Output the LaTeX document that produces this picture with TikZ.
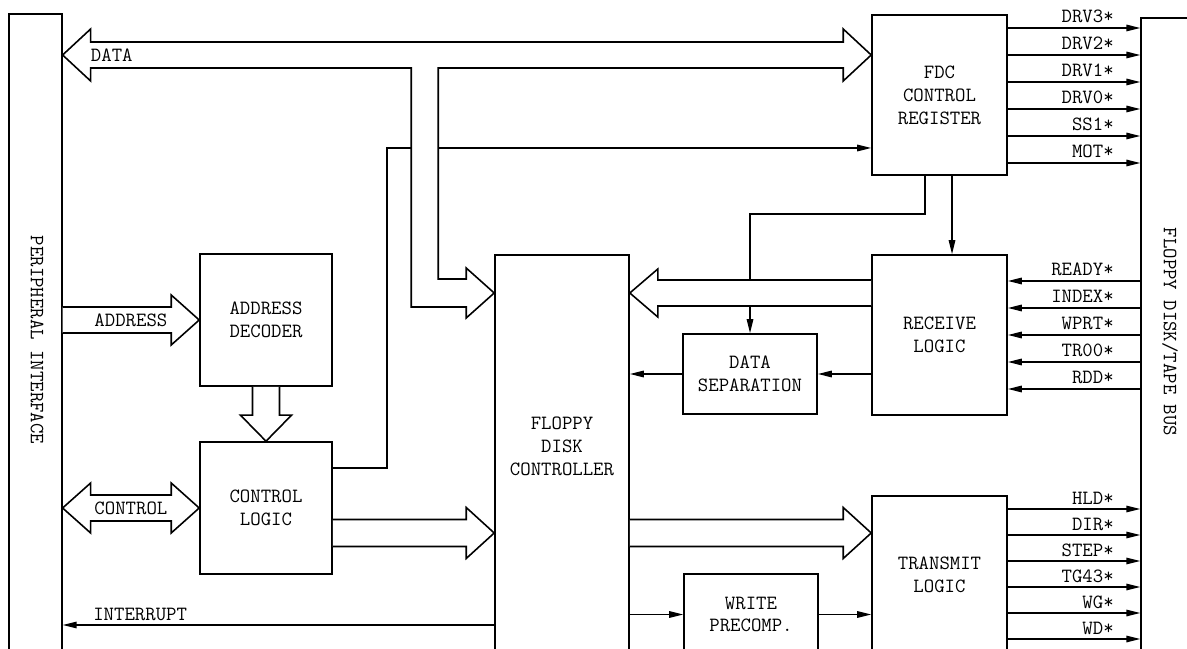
\documentclass[tikz,border=0pt]{standalone}
\usepackage{fontspec}
\usetikzlibrary{arrows.meta,positioning,calc}
\tikzset{
  blk/.style={draw, line width=0.9pt, fill=white, align=center, inner sep=2pt},
  bar/.style={draw, line width=0.7pt, fill=white, inner sep=0pt},
  bus/.style={draw, line width=0.9pt, fill=white, line join=miter},
  arr/.style={-{Triangle[length=2.8mm, width=1.3mm]}, line width=0.8pt},
  lbl/.style={inner sep=0pt},
  sgl/.style={lbl, pos=1, anchor=base east, xshift=-5.2mm, yshift=1mm},
  vlbl/.style={lbl, rotate=-90},
}

\begin{document}
\begin{tikzpicture}[font=\ttfamily\fontsize{11.5}{13}\selectfont]
  \useasboundingbox (0,0) rectangle (23.74,12.96);
  % side buses
  \node[bar, minimum width=1.06cm, minimum height=12.88cm] (per) at (0.71,6.24) {};
  \node[vlbl] (perlbl) at (0.74,6.16) {PERIPHERAL INTERFACE};
  \node[bar, minimum width=1.4cm, minimum height=12.8cm] (fbus) at (23.52,6.2) {};
  \node[vlbl] (fbuslbl) at (23.4,6.32) {FLOPPY DISK/TAPE BUS};
  % blocks
  \node[blk, minimum width=2.7cm, minimum height=3.2cm] (fdcr) at (18.79,11.06) {FDC\\CONTROL\\REGISTER};
  \node[blk, minimum width=2.7cm, minimum height=3.2cm] (rcv) at (18.79,6.26) {RECEIVE\\LOGIC};
  \node[blk, minimum width=2.7cm, minimum height=3.14cm] (xmt) at (18.79,1.47) {TRANSMIT\\LOGIC};
  \node[blk, minimum width=2.68cm, minimum height=8.0cm] (fdc) at (11.24,3.86) {};
  \node[lbl, align=center] (fdctxt) at (11.24,4.04) {FLOPPY\\DISK\\CONTROLLER};
  \node[blk, minimum width=2.68cm, minimum height=1.6cm] (dsep) at (15.0,5.48) {DATA\\SEPARATION};
  \node[blk, minimum width=2.68cm, minimum height=1.62cm] (wpc) at (15.02,0.67) {WRITE\\PRECOMP.};
  \node[blk, minimum width=2.64cm, minimum height=2.64cm] (adec) at (5.32,6.56) {ADDRESS\\DECODER};
  \node[blk, minimum width=2.64cm, minimum height=2.64cm] (ctl) at (5.32,2.8) {CONTROL\\LOGIC};
  % single lines
  \draw[arr] ($(ctl.east)+(0,0.8)$) -| (7.74,10.0) -- (fdcr.west |- 0,10.0);
  \draw[arr] ($(fdcr.south)+(-0.29,0)$) |- (15.0,8.68) -- (dsep.north);
  \draw[arr] ($(fdcr.south)+(0.25,0)$) -- ($(rcv.north)+(0.25,0)$);
  \draw[arr] (dsep.west) -- (fdc.east |- dsep.west);
  \draw[arr] (rcv.west |- dsep.east) -- (dsep.east);
  \draw[arr] (fdc.west |- 0,0.46) -- (per.east |- 0,0.46) node[lbl, pos=1, anchor=base west, xshift=6mm, yshift=1mm] {INTERRUPT};
  \draw[arr] (fdc.east |- wpc.west) -- (wpc.west);
  \draw[arr] (wpc.east) -- (xmt.west |- wpc.east);
  \foreach \yy/\sg in {12.40/DRV3*,11.86/DRV2*,11.32/DRV1*,10.78/DRV0*,10.24/SS1*,9.70/MOT*}
    \draw[arr] (fdcr.east |- 0,\yy) -- (fbus.west |- 0,\yy) node[sgl] {\sg};
  \foreach \yy/\sg in {7.34/READY*,6.80/INDEX*,6.26/WPRT*,5.72/TR00*,5.18/RDD*}
    \draw[arr] (fbus.west |- 0,\yy) -- (rcv.east |- 0,\yy) node[sgl, pos=0] {\sg};
  \foreach \yy/\sg in {2.78/HLD*,2.26/DIR*,1.74/STEP*,1.22/TG43*,0.70/WG*,0.18/WD*}
    \draw[arr] (xmt.east |- 0,\yy) -- (fbus.west |- 0,\yy) node[sgl] {\sg};
  % hollow buses
  \coordinate (dL) at (per.east |- 0,11.86);
  \coordinate (dR) at (fdcr.west |- dL);
  \coordinate (dF) at (fdc.west |- 0,7.1);
  \draw[bus] (dL) -- ++(0.56,0.52) -- ++(0,-0.26) -- ($(dR)+(-0.56,0.26)$) -- ++(0,0.26) -- (dR) -- ++(-0.56,-0.52) -- ++(0,0.26)
    -- ($(dF |- dR)+(-1.12,-0.26)$) -- ($(dF)+(-1.12,0.28)$) -- ($(dF)+(-0.56,0.28)$) -- ++(0,0.22) -- (dF) -- ++(-0.56,-0.5) -- ++(0,0.22)
    -- ($(dF)+(-1.66,-0.28)$) -- ($(dF |- dR)+(-1.66,-0.26)$) -- ($(dL)+(0.56,-0.26)$) -- ++(0,-0.26) -- cycle;
  \node[lbl, anchor=west] (datalbl) at ($(dL)+(0.56,0)$) {DATA};
  \draw[bus] ($(per.east |- adec.west)+(0,0.26)$) -- ($(adec.west)+(-0.56,0.26)$) -- ++(0,0.24) -- (adec.west) -- ++(-0.56,-0.5) -- ++(0,0.24) -- ($(per.east |- adec.west)+(0,-0.26)$);
  \node[lbl] (addrlbl) at ($(per.east |- adec.west)!0.5!(adec.west)$) {ADDRESS};
  \draw[bus] (per.east |- ctl.west) -- ++(0.56,0.5) -- ++(0,-0.24) -- ($(ctl.west)+(-0.56,0.26)$) -- ++(0,0.24) -- (ctl.west) -- ++(-0.56,-0.5) -- ++(0,0.24) -- ($(per.east |- ctl.west)+(0.56,-0.26)$) -- ++(0,-0.24) -- cycle;
  \node[lbl] (ctllbl) at ($(per.east |- ctl.west)!0.5!(ctl.west)$) {CONTROL};
  \draw[bus] ($(adec.south)+(-0.27,0)$) -- ($(ctl.north)+(-0.27,0.52)$) -- ++(-0.24,0) -- (ctl.north) -- ++(0.51,0.52) -- ++(-0.24,0) -- ($(adec.south)+(0.27,0)$);
  \coordinate (cF) at (fdc.west |- 0,2.3);
  \draw[bus] ($(ctl.east |- cF)+(0,0.27)$) -- ($(cF)+(-0.56,0.27)$) -- ++(0,0.24) -- (cF) -- ++(-0.56,-0.51) -- ++(0,0.24) -- ($(ctl.east |- cF)+(0,-0.27)$);
  \coordinate (xT) at (xmt.west |- cF);
  \draw[bus] ($(fdc.east |- xT)+(0,0.27)$) -- ($(xT)+(-0.56,0.27)$) -- ++(0,0.24) -- (xT) -- ++(-0.56,-0.51) -- ++(0,0.24) -- ($(fdc.east |- xT)+(0,-0.27)$);
  \coordinate (rF) at (fdc.east |- 0,7.1);
  \draw[bus] ($(rcv.west |- rF)+(0,0.26)$) -- ($(rF)+(0.56,0.26)$) -- ++(0,0.22) -- (rF) -- ++(0.56,-0.48) -- ++(0,0.22) -- ($(rcv.west |- rF)+(0,-0.26)$);
\end{tikzpicture}
\end{document}
